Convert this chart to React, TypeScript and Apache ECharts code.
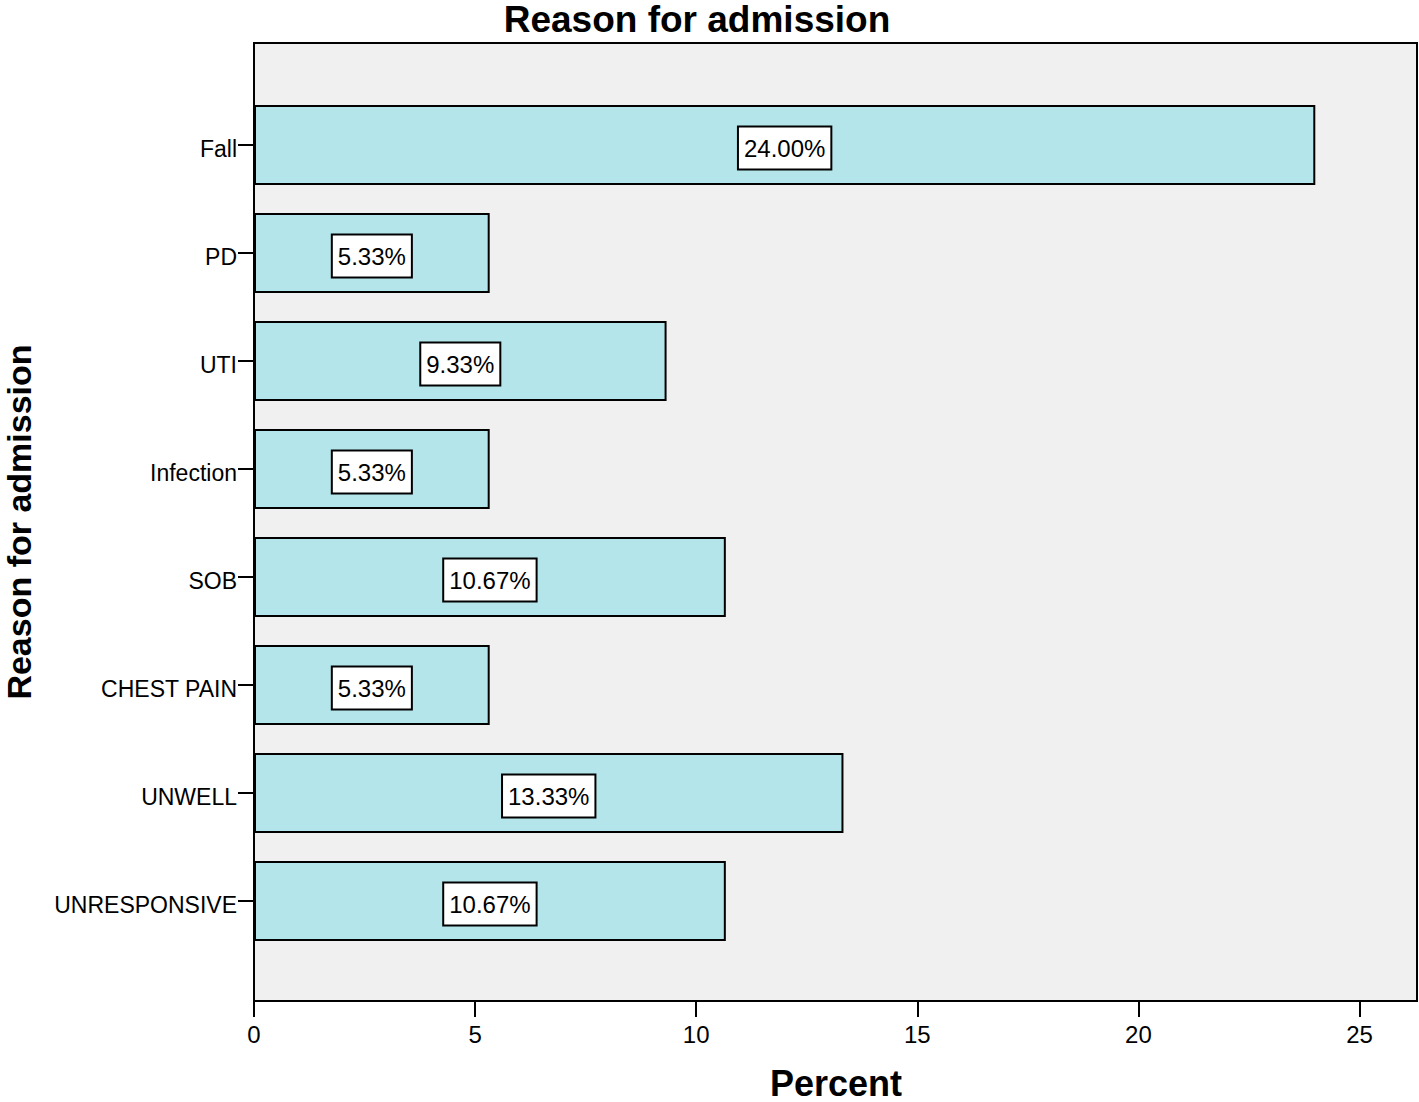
import React, { useEffect, useRef } from "react";
import * as echarts from "echarts";

const categories = ["Fall", "PD", "UTI", "Infection", "SOB", "CHEST PAIN", "UNWELL", "UNRESPONSIVE"];
const percents = [24.0, 5.33, 9.33, 5.33, 10.67, 5.33, 13.33, 10.67];
const xTicks = [0, 5, 10, 15, 20, 25];
const titleText = "Reason for admission";
const yAxisTitle = "Reason for admission";
const xAxisTitle = "Percent";

const FONT = "'Liberation Sans', Arial, Helvetica, sans-serif";

export default function App() {
  const ref = useRef<HTMLDivElement>(null);
  useEffect(() => {
    if (!ref.current) return;
    const chart = echarts.init(ref.current, null, { renderer: "svg" });
    const option: any = {
      animation: false,
      backgroundColor: "#ffffff",
      grid: { left: 254, right: 2, top: 91, bottom: 147, containLabel: false },
      xAxis: {
        type: "value",
        min: 0,
        max: 26.3,
        interval: 5,
        offset: 46,
        axisLine: { show: false },
        axisTick: {
          show: true,
          length: 16,
          lineStyle: { color: "#000", width: 2 },
          customValues: xTicks,
        },
        axisLabel: {
          customValues: xTicks,
          margin: 21,
          fontSize: 24,
          fontFamily: FONT,
          color: "#000",
        },
        splitLine: { show: false },
      },
      yAxis: {
        type: "category",
        data: categories,
        inverse: true,
        axisLine: { show: false },
        axisTick: {
          show: true,
          alignWithLabel: true,
          length: 16,
          lineStyle: { color: "#000", width: 2 },
        },
        axisLabel: {
          margin: 17,
          fontSize: 23,
          fontFamily: FONT,
          color: "#000",
          verticalAlign: "top",
          lineHeight: 8,
        },
        splitLine: { show: false },
      },
      series: [
        {
          type: "bar",
          data: percents,
          barWidth: 80,
          z: 3,
          itemStyle: { color: "#b3e5ea", borderColor: "#000", borderWidth: 2 },
          label: {
            show: true,
            position: "inside",
            offset: [0, 3],
            formatter: (p: any) => p.value.toFixed(2) + "%",
            fontSize: 24,
            fontFamily: FONT,
            color: "#000",
            backgroundColor: "#fff",
            borderColor: "#000",
            borderWidth: 2,
            padding: [8, 5, 7, 5],
            lineHeight: 26,
          },
        },
      ],
      graphic: [
        {
          type: "rect",
          z: -10,
          silent: true,
          shape: { x: 254, y: 43, width: 1163, height: 958 },
          style: { fill: "#f0f0f0", stroke: "#000", lineWidth: 2 },
        },
        {
          type: "text",
          x: 697,
          y: 19,
          style: {
            text: titleText,
            font: `bold 37px ${FONT}`,
            fill: "#000",
            textAlign: "center",
            textVerticalAlign: "middle",
          },
        },
        {
          type: "text",
          x: 19,
          y: 522,
          rotation: Math.PI / 2,
          style: {
            text: yAxisTitle,
            font: `bold 34px ${FONT}`,
            fill: "#000",
            textAlign: "center",
            textVerticalAlign: "middle",
          },
        },
        {
          type: "text",
          x: 836,
          y: 1083,
          style: {
            text: xAxisTitle,
            font: `bold 36px ${FONT}`,
            fill: "#000",
            textAlign: "center",
            textVerticalAlign: "middle",
          },
        },
      ],
    };
    chart.setOption(option);
    return () => chart.dispose();
  }, []);
  return (
    <div
      ref={ref}
      style={{ position: "absolute", left: 0, top: 0, width: 1419, height: 1102 }}
    />
  );
}
